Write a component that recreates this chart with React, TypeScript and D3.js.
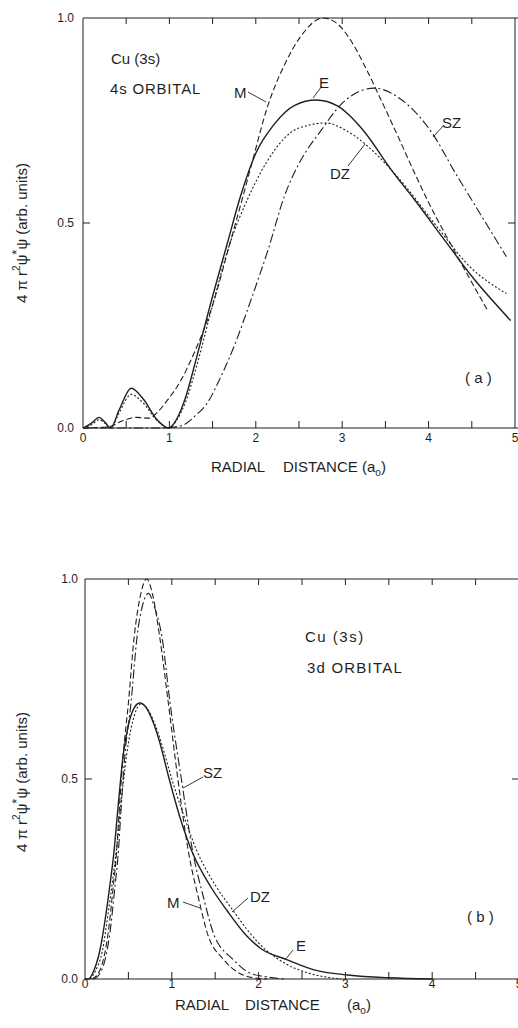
import React from "react";
import * as d3 from "d3";

type Pt = [number, number];

// ---------- tick values ----------
const xTickMajor = [0, 1, 2, 3, 4, 5];
const xTickMinor = [0.5, 1.5, 2.5, 3.5, 4.5];
const yTickLabels = [0, 0.5, 1.0];

// ---------- panel (a): 4s orbital ----------
const a_E: Pt[] = [
  [0, 0], [0.1, 0.012], [0.186, 0.026], [0.25, 0.015], [0.32, 0], [0.42, 0.045], [0.558, 0.097],
  [0.7, 0.07], [0.85, 0.022], [0.99, 0], [1.08, 0.02], [1.18, 0.07], [1.3, 0.16], [1.46, 0.29],
  [1.67, 0.45], [1.83, 0.57], [2.0, 0.67], [2.21, 0.74], [2.45, 0.787], [2.7, 0.8], [2.95, 0.785],
  [3.24, 0.727], [3.57, 0.629], [3.84, 0.556], [4.17, 0.4625], [4.5, 0.37], [4.95, 0.262],
];
const a_DZ: Pt[] = [
  [0, 0], [0.1, 0.008], [0.186, 0.02], [0.25, 0.012], [0.32, 0], [0.42, 0.038], [0.558, 0.082],
  [0.7, 0.06], [0.85, 0.02], [0.99, 0], [1.08, 0.018], [1.19, 0.065], [1.32, 0.155], [1.5, 0.3],
  [1.7, 0.45], [1.9, 0.556], [2.13, 0.65], [2.4, 0.72], [2.6, 0.738], [2.81, 0.744], [3.05, 0.725],
  [3.28, 0.69], [3.5, 0.645], [3.75, 0.585], [4.1, 0.49], [4.48, 0.393], [4.9, 0.328],
];
const a_M: Pt[] = [
  [0, 0], [0.3, 0.003], [0.45, 0.017], [0.62, 0.026], [0.76, 0.024], [0.86, 0.038], [0.97, 0.066],
  [1.13, 0.115], [1.28, 0.18], [1.5, 0.3], [1.7, 0.45], [1.84, 0.556], [1.96, 0.65], [2.13, 0.78],
  [2.33, 0.885], [2.52, 0.955], [2.78, 1.0], [2.95, 0.985], [3.1, 0.945], [3.28, 0.875], [3.45, 0.8],
  [3.67, 0.7], [3.82, 0.63], [4.0, 0.55], [4.33, 0.42], [4.69, 0.284],
];
const a_SZ: Pt[] = [
  [0, 0], [0.9, 0.0], [1.13, 0.005], [1.3, 0.03], [1.46, 0.068], [1.55, 0.105], [1.75, 0.2],
  [1.94, 0.31], [2.15, 0.44], [2.33, 0.565], [2.5, 0.645], [2.76, 0.727], [2.99, 0.79], [3.37, 0.829],
  [3.69, 0.8], [4.07, 0.71], [4.29, 0.629], [4.5, 0.556], [4.9, 0.418],
];

// ---------- panel (b): 3d orbital ----------
const b_E: Pt[] = [
  [0, 0], [0.04, 0], [0.1, 0.02], [0.17, 0.07], [0.24, 0.16], [0.29, 0.24], [0.33, 0.31],
  [0.385, 0.44], [0.44, 0.56], [0.5, 0.635], [0.56, 0.675], [0.63, 0.69], [0.7, 0.68], [0.78, 0.645],
  [0.85, 0.6], [0.97, 0.5], [1.1, 0.4], [1.23, 0.32], [1.45, 0.23], [1.64, 0.17], [1.87, 0.106],
  [2.02, 0.077], [2.33, 0.048], [2.64, 0.023], [3.03, 0.01], [3.5, 0.003], [4.0, 0],
];
const b_DZ: Pt[] = [
  [0.06, 0], [0.12, 0.02], [0.2, 0.07], [0.27, 0.17], [0.32, 0.25], [0.36, 0.32], [0.42, 0.45],
  [0.5, 0.59], [0.57, 0.66], [0.65, 0.688], [0.72, 0.675], [0.8, 0.64], [0.88, 0.59], [1.0, 0.5],
  [1.12, 0.42], [1.29, 0.32], [1.5, 0.235], [1.71, 0.17], [1.87, 0.123], [2.0, 0.09], [2.33, 0.036],
  [2.64, 0.011], [2.95, 0],
];
const b_M: Pt[] = [
  [0.08, 0], [0.14, 0.01], [0.21, 0.047], [0.27, 0.12], [0.32, 0.22], [0.365, 0.32], [0.4, 0.44],
  [0.44, 0.56], [0.5, 0.69], [0.567, 0.856], [0.64, 0.96], [0.71, 1.0], [0.78, 0.96], [0.86, 0.856],
  [0.96, 0.69], [1.07, 0.5], [1.19, 0.32], [1.31, 0.2], [1.41, 0.114], [1.6, 0.048], [1.8, 0.012],
  [1.94, 0.003], [2.1, 0],
];
const b_SZ: Pt[] = [
  [0.1, 0], [0.16, 0.01], [0.23, 0.047], [0.29, 0.12], [0.34, 0.22], [0.385, 0.32], [0.42, 0.44],
  [0.46, 0.56], [0.53, 0.69], [0.6, 0.856], [0.67, 0.94], [0.73, 0.964], [0.8, 0.93], [0.886, 0.856],
  [0.98, 0.69], [1.11, 0.5], [1.24, 0.32], [1.37, 0.2], [1.48, 0.114], [1.71, 0.048], [1.9, 0.015],
  [2.1, 0.005], [2.3, 0],
];

const INK = "#1f1f1f";
const FONT = "'Liberation Sans', Arial, sans-serif";

const DASH: Record<string, string | undefined> = {
  E: undefined,
  M: "6,3",
  DZ: "2,2",
  SZ: "9,3,2,3",
};

type PanelProps = {
  x0: number; x1: number; yTop: number; yBot: number;
  series: { key: string; data: Pt[] }[];
  yLabelCenter: number;
  xLabelParts: { text: string; x: number }[];
  xLabelBaseline: number;
  xTickBaseline: number;
  yLabelEnd: number;
};

function Panel(p: PanelProps) {
  const x = d3.scaleLinear().domain([0, 5]).range([p.x0, p.x1]);
  const y = d3.scaleLinear().domain([0, 1]).range([p.yBot, p.yTop]);
  const line = d3
    .line<Pt>()
    .x((d) => x(d[0]))
    .y((d) => y(d[1]))
    .curve(d3.curveMonotoneX);
  const allTicks = [...xTickMajor, ...xTickMinor].filter((t) => t > 0 && t < 5);
  return (
    <g>
      {/* frame */}
      <line x1={p.x0} x2={p.x0} y1={p.yTop} y2={p.yBot} stroke={INK} strokeWidth={1} />
      <line x1={p.x0} x2={518} y1={p.yTop} y2={p.yTop} stroke={INK} strokeWidth={1} />
      <line x1={p.x0} x2={518} y1={p.yBot} y2={p.yBot} stroke={INK} strokeWidth={1.2} />
      <line x1={x(5)} x2={x(5)} y1={p.yTop} y2={p.yBot} stroke={INK} strokeWidth={1} />
      {allTicks.map((t) => (
        <g key={t}>
          <line x1={x(t)} x2={x(t)} y1={p.yTop} y2={p.yTop + 6} stroke={INK} strokeWidth={1} />
          <line x1={x(t)} x2={x(t)} y1={p.yBot} y2={p.yBot - 7} stroke={INK} strokeWidth={1} />
        </g>
      ))}
      <line x1={p.x0} x2={p.x0 + 7} y1={y(0.5)} y2={y(0.5)} stroke={INK} strokeWidth={1} />
      <line x1={x(5)} x2={x(5) - 7} y1={y(0.5)} y2={y(0.5)} stroke={INK} strokeWidth={1} />
      {/* tick labels */}
      {xTickMajor.map((t) => (
        <text key={t} x={x(t)} y={p.xTickBaseline} fontSize={12} textAnchor="middle" fill={INK} fontFamily={FONT}>
          {t}
        </text>
      ))}
      {yTickLabels.map((t) => (
        <text key={t} x={p.yLabelEnd} y={y(t) + 4} fontSize={12} textAnchor="end" fill={INK} fontFamily={FONT}>
          {t.toFixed(1)}
        </text>
      ))}
      {/* axis titles */}
      {p.xLabelParts.map((part, i) => (
        <text key={i} x={part.x} y={p.xLabelBaseline} fontSize={15} fill={INK} fontFamily={FONT}>
          {part.text === "(a0)" ? (
            <>
              (a<tspan fontSize={10} dy={4}>o</tspan>
              <tspan dy={-4}>)</tspan>
            </>
          ) : (
            part.text
          )}
        </text>
      ))}
      <text
        transform={`translate(27,${p.yLabelCenter}) rotate(-90)`}
        textAnchor="middle"
        fontSize={15}
        fill={INK}
        fontFamily={FONT}
      >
        4 π r<tspan fontSize={10} dy={-7}>2</tspan>
        <tspan dy={7}>ψ</tspan>
        <tspan fontSize={13} dy={-6}>*</tspan>
        <tspan dy={6}>ψ (arb. units)</tspan>
      </text>
      {/* curves */}
      {p.series.map((s) => (
        <path
          key={s.key}
          d={line(s.data) || ""}
          fill="none"
          stroke={INK}
          strokeWidth={s.key === "E" ? 1.4 : 1.1}
          strokeDasharray={DASH[s.key]}
        />
      ))}
    </g>
  );
}

function Lbl({ t, x, y, lx1, ly1, lx2, ly2 }: { t: string; x: number; y: number; lx1: number; ly1: number; lx2: number; ly2: number }) {
  return (
    <g>
      <text x={x} y={y} fontSize={15} fill={INK} fontFamily={FONT}>{t}</text>
      <line x1={lx1} y1={ly1} x2={lx2} y2={ly2} stroke={INK} strokeWidth={0.9} />
    </g>
  );
}

export default function App() {
  return (
    <svg
      width={518}
      height={1028}
      viewBox="0 0 518 1028"
      style={{ position: "absolute", left: 0, top: 0, background: "#fff" }}
    >
      <rect width={518} height={1028} fill="#fff" />
      <Panel
        x0={83} x1={515} yTop={18} yBot={428}
        series={[
          { key: "SZ", data: a_SZ },
          { key: "M", data: a_M },
          { key: "DZ", data: a_DZ },
          { key: "E", data: a_E },
        ]}
        yLabelCenter={233}
        xLabelParts={[
          { text: "RADIAL", x: 211 },
          { text: "DISTANCE", x: 283 },
          { text: "(a0)", x: 362 },
        ]}
        xLabelBaseline={472}
        xTickBaseline={442}
        yLabelEnd={74}
      />
      <text x={111} y={64} fontSize={15} fill={INK} fontFamily={FONT}>Cu (3s)</text>
      <text x={110} y={94} fontSize={15} fill={INK} fontFamily={FONT} letterSpacing={0.8}>4s ORBITAL</text>
      <Lbl t="M" x={234} y={98} lx1={248} ly1={92} lx2={266} ly2={102} />
      <Lbl t="E" x={319} y={88} lx1={322} ly1={86} lx2={313} ly2={98} />
      <Lbl t="SZ" x={442} y={128} lx1={444} ly1={125} lx2={433} ly2={137} />
      <Lbl t="DZ" x={330} y={179} lx1={348} ly1={166} lx2={365} ly2={144} />
      <text x={465} y={383} fontSize={15} fill={INK} fontFamily={FONT}>( a )</text>

      <Panel
        x0={85} x1={519} yTop={579} yBot={979}
        series={[
          { key: "SZ", data: b_SZ },
          { key: "M", data: b_M },
          { key: "DZ", data: b_DZ },
          { key: "E", data: b_E },
        ]}
        yLabelCenter={782}
        xLabelParts={[
          { text: "RADIAL", x: 175 },
          { text: "DISTANCE", x: 245 },
          { text: "(a0)", x: 347 },
        ]}
        xLabelBaseline={1010}
        xTickBaseline={988}
        yLabelEnd={78}
      />
      <text x={305} y={642} fontSize={15} fill={INK} fontFamily={FONT} letterSpacing={1.5}>Cu (3s)</text>
      <text x={307} y={673} fontSize={15} fill={INK} fontFamily={FONT} letterSpacing={1.2}>3d ORBITAL</text>
      <Lbl t="SZ" x={203} y={778} lx1={203} ly1={777} lx2={183} ly2={788} />
      <Lbl t="M" x={167} y={908} lx1={183} ly1={902} lx2={200} ly2={908} />
      <Lbl t="DZ" x={250} y={902} lx1={248} ly1={898} lx2={232} ly2={912} />
      <Lbl t="E" x={296} y={951} lx1={293} ly1={950} lx2={285} ly2={960} />
      <text x={467} y={922} fontSize={15} fill={INK} fontFamily={FONT}>( b )</text>
    </svg>
  );
}
